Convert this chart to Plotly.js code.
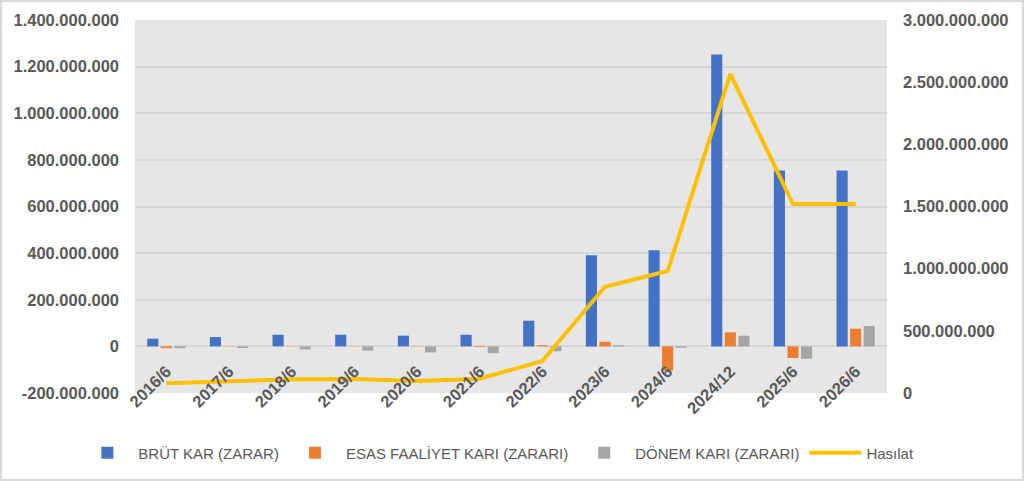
<!DOCTYPE html>
<html>
<head>
<meta charset="utf-8">
<script src="https://cdn.plot.ly/plotly-3.0.1.min.js"></script>
<style>
  html, body { margin: 0; padding: 0; background: #fff; }
  #chart { width: 1020px; height: 477px; border: 2px solid #d9d9d9; }
</style>
</head>
<body>
<div id="chart"></div>
<script>
// periods
let donemler = ['2016/6', '2017/6', '2018/6', '2019/6', '2020/6', '2021/6',
                '2022/6', '2023/6', '2024/6', '2024/12', '2025/6', '2026/6'];

// values (TL)
let brutKar = [33e6, 40e6, 50e6, 50e6, 46e6, 50e6, 110e6, 391e6, 412e6, 1252e6, 754e6, 754e6];
let esasFaaliyet = [-8e6, -1e6, -1e6, -1e6, -1e6, -3e6, 5e6, 20e6, -103e6, 60e6, -50e6, 76e6];
let donemKari = [-8e6, -7e6, -13e6, -18e6, -26e6, -29e6, -21e6, 5e6, -6e6, 46e6, -53e6, 87e6];
let hasilat = [78e6, 96e6, 110e6, 112e6, 96e6, 115e6, 257e6, 855e6, 981e6, 2566e6, 1520e6, 1520e6];

// tick labels
let solTikler = [-200e6, 0, 200e6, 400e6, 600e6, 800e6, 1000e6, 1200e6, 1400e6];
let sagTikler = [0, 500e6, 1000e6, 1500e6, 2000e6, 2500e6, 3000e6];

function noktali(v) {
    if (v === 0) return '0';
    let s = Math.abs(v).toFixed(0).replace(/\B(?=(\d{3})+(?!\d))/g, '.');
    return (v < 0 ? '-' : '') + s;
}

let tickFont = { family: 'Liberation Sans, Arial, sans-serif', size: 16.5, color: '#595959', weight: 'bold' };

let data = [
    { type: 'bar', name: 'BRÜT KAR (ZARAR)', x: donemler, y: brutKar, marker: { color: '#4472C4' } },
    { type: 'bar', name: 'ESAS FAALİYET KARI (ZARARI)', x: donemler, y: esasFaaliyet, marker: { color: '#ED7D31' } },
    { type: 'bar', name: 'DÖNEM KARI (ZARARI)', x: donemler, y: donemKari, marker: { color: '#A5A5A5' } },
    { type: 'scatter', mode: 'lines', name: 'Hasılat', x: donemler, y: hasilat, yaxis: 'y2',
      line: { color: '#FFC000', width: 4 } }
];

let layout = {
    width: 1020,
    height: 477,
    margin: { l: 133, r: 135, t: 18, b: 86, autoexpand: false },
    paper_bgcolor: '#ffffff',
    plot_bgcolor: '#e6e6e6',
    barmode: 'group',
    bargap: 0.35,
    bargroupgap: 0.18,
    showlegend: true,
    legend: {
        orientation: 'h',
        x: -0.078, xanchor: 'left', y: -0.161, yanchor: 'middle',
        font: { family: 'Liberation Sans, Arial, sans-serif', size: 15, color: '#595959' },
        itemwidth: 52, traceorder: 'normal'
    },
    xaxis: {
        type: 'category',
        anchor: 'free',
        position: 0.124,
        tickangle: -45,
        tickfont: tickFont,
        showgrid: false,
        showline: false,
        ticks: '',
        ticklabelstandoff: 11
    },
    yaxis: {
        range: [-200e6, 1400e6],
        tickvals: solTikler,
        ticktext: solTikler.map(noktali),
        tickfont: tickFont,
        gridcolor: '#d6d6d6',
        gridwidth: 2,
        zeroline: true,
        zerolinecolor: '#d6d6d6',
        zerolinewidth: 2,
        showline: false,
        ticks: '',
        ticklabelstandoff: 15
    },
    yaxis2: {
        overlaying: 'y',
        side: 'right',
        range: [0, 3000e6],
        tickvals: sagTikler,
        ticktext: sagTikler.map(noktali),
        tickfont: tickFont,
        showgrid: false,
        zeroline: false,
        showline: false,
        ticks: '',
        ticklabelstandoff: 15
    }
};

Plotly.newPlot('chart', data, layout, { displayModeBar: false, staticPlot: true });
</script>
</body>
</html>
